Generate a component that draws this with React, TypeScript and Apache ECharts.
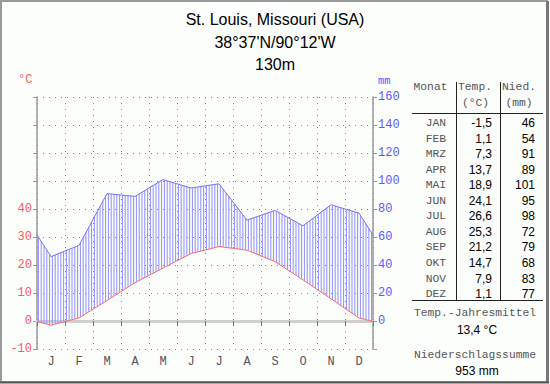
import React, { useEffect, useRef } from "react";
import * as echarts from "echarts";

const titleLines = ["St. Louis, Missouri (USA)", "38°37'N/90°12'W", "130m"];
const monthLetters = ["J", "F", "M", "A", "M", "J", "J", "A", "S", "O", "N", "D"];
const monthNames = ["JAN", "FEB", "MRZ", "APR", "MAI", "JUN", "JUL", "AUG", "SEP", "OKT", "NOV", "DEZ"];
const temps = [-1.5, 1.1, 7.3, 13.7, 18.9, 24.1, 26.6, 25.3, 21.2, 14.7, 7.9, 1.1];
const precip = [46, 54, 91, 89, 101, 95, 98, 72, 79, 68, 83, 77];
const tempLabels = ["-1,5", "1,1", "7,3", "13,7", "18,9", "24,1", "26,6", "25,3", "21,2", "14,7", "7,9", "1,1"];
const meanTempText = "13,4 °C";
const sumPrecipText = "953 mm";

const RED = "#ff5a5a";
const BLUE = "#5a5aff";
const MONO = "'Liberation Mono', 'DejaVu Sans Mono', monospace";
const SANS = "'Liberation Sans', Arial, sans-serif";

function withEdges(vals: number[]): number[][] {
  const edge = (vals[0] + vals[vals.length - 1]) / 2;
  const pts: number[][] = [[0, edge]];
  vals.forEach((v, i) => pts.push([i + 0.5, v]));
  pts.push([vals.length, edge]);
  return pts;
}

export default function App() {
  const ref = useRef<HTMLDivElement>(null);
  useEffect(() => {
    if (!ref.current) return;
    const chart = echarts.init(ref.current, null, { renderer: "svg" });
    const tPts = withEdges(temps);
    const pPts = withEdges(precip);
    // segments for hatching, temp converted to mm scale (10 °C = 20 mm)
    const segs: number[][] = [];
    for (let i = 0; i < tPts.length - 1; i++) {
      segs.push([tPts[i][0], tPts[i][1] * 2, pPts[i][1], tPts[i + 1][0], tPts[i + 1][1] * 2, pPts[i + 1][1]]);
    }

    const graphic: any[] = [];
    graphic.push({ type: "rect", shape: { x: 1, y: 1, width: 546, height: 381 }, style: { fill: "#fcfefc", stroke: "#9a9a9a", lineWidth: 2 }, z: -10, silent: true });
    graphic.push({ type: "line", shape: { x1: 547.5, y1: 1, x2: 547.5, y2: 383 }, style: { stroke: "#777", lineWidth: 3 }, silent: true });
    graphic.push({ type: "line", shape: { x1: 0, y1: 382.5, x2: 549, y2: 382.5 }, style: { stroke: "#555", lineWidth: 2 }, silent: true });
    const titleY = [19, 42, 64];
    titleLines.forEach((t, i) => {
      graphic.push({ type: "text", style: { text: t, x: 275, y: titleY[i], font: `16px ${SANS}`, fill: "#000", textAlign: "center", textVerticalAlign: "middle" } });
    });
    graphic.push({ type: "text", style: { text: "°C", x: 18, y: 80, font: `12px ${MONO}`, fill: RED, textAlign: "left", textVerticalAlign: "middle" } });
    graphic.push({ type: "text", style: { text: "mm", x: 378, y: 81, font: `10.5px ${MONO}`, fill: BLUE, textAlign: "left", textVerticalAlign: "middle" } });
    const MONO_FILL = "#555";
    const hdr = (text: string, x: number, y: number) =>
      graphic.push({ type: "text", style: { text, x, y, font: `11.3px ${MONO}`, fill: MONO_FILL, textAlign: "center", textVerticalAlign: "middle" } });
    hdr("Monat", 430.5, 87);
    hdr("Temp.", 475, 87);
    hdr("(°C)", 475.5, 103);
    hdr("Nied.", 519, 87);
    hdr("(mm)", 519, 103);
    graphic.push({ type: "line", shape: { x1: 412, y1: 113.5, x2: 543, y2: 113.5 }, style: { stroke: "#222", lineWidth: 1 } });
    graphic.push({ type: "line", shape: { x1: 456.5, y1: 82, x2: 456.5, y2: 300.5 }, style: { stroke: "#222", lineWidth: 1 } });
    graphic.push({ type: "line", shape: { x1: 500.5, y1: 82, x2: 500.5, y2: 300.5 }, style: { stroke: "#222", lineWidth: 1 } });
    graphic.push({ type: "line", shape: { x1: 412, y1: 300.5, x2: 543, y2: 300.5 }, style: { stroke: "#222", lineWidth: 1 } });
    monthNames.forEach((m, i) => {
      const y = 123 + i * 15.55;
      graphic.push({ type: "text", style: { text: m, x: 446, y, font: `11.3px ${MONO}`, fill: MONO_FILL, textAlign: "right", textVerticalAlign: "middle" } });
      graphic.push({ type: "text", style: { text: tempLabels[i], x: 492, y, font: `12px ${SANS}`, fill: "#000", textAlign: "right", textVerticalAlign: "middle" } });
      graphic.push({ type: "text", style: { text: String(precip[i]), x: 535, y, font: `12px ${SANS}`, fill: "#000", textAlign: "right", textVerticalAlign: "middle" } });
    });
    graphic.push({ type: "text", style: { text: "Temp.-Jahresmittel", x: 475, y: 313, font: `11.3px ${MONO}`, fill: MONO_FILL, textAlign: "center", textVerticalAlign: "middle" } });
    graphic.push({ type: "text", style: { text: meanTempText, x: 477, y: 330, font: `12px ${SANS}`, fill: "#000", textAlign: "center", textVerticalAlign: "middle" } });
    graphic.push({ type: "text", style: { text: "Niederschlagssumme", x: 475, y: 355, font: `11.3px ${MONO}`, fill: MONO_FILL, textAlign: "center", textVerticalAlign: "middle" } });
    graphic.push({ type: "text", style: { text: sumPrecipText, x: 477, y: 371, font: `12px ${SANS}`, fill: "#000", textAlign: "center", textVerticalAlign: "middle" } });

    const option: any = {
      animation: false,
      graphic,
      grid: { left: 37, right: 177, top: 97, bottom: 35, containLabel: false },
      xAxis: [
        {
          type: "category",
          data: monthLetters,
          boundaryGap: true,
          axisLine: { show: true, onZero: true, lineStyle: { color: "#cfcfcf", width: 3 } },
          axisTick: { show: true, length: 5, lineStyle: { color: "#777" } },
          axisLabel: { color: "#555", fontFamily: MONO, fontSize: 12, margin: 7 },
          splitLine: { show: false },
          z: 1,
        },
        {
          type: "value",
          min: 0,
          max: 12,
          interval: 1,
          position: "top",
          axisLine: { show: false },
          axisTick: { show: false },
          axisLabel: { show: false },
          splitLine: { show: true, lineStyle: { color: "#888", type: [1, 5], width: 1 } },
        },
      ],
      yAxis: [
        {
          type: "value",
          min: -10,
          max: 80,
          interval: 10,
          position: "left",
          axisLine: { show: true, onZero: false, lineStyle: { color: "#999", width: 1.5 } },
          axisTick: { show: true, length: 4, lineStyle: { color: "#999" } },
          axisLabel: { color: RED, fontFamily: MONO, fontSize: 12, margin: 5, formatter: (v: number) => (v <= 40 ? String(v) : "") },
          splitLine: { show: true, lineStyle: { color: "#888", type: [1, 5], width: 1 } },
        },
        {
          type: "value",
          min: -20,
          max: 160,
          interval: 20,
          position: "right",
          axisLine: { show: true, onZero: false, lineStyle: { color: "#999", width: 1.5 } },
          axisTick: { show: true, length: 4, lineStyle: { color: "#999" } },
          axisLabel: { color: BLUE, fontFamily: MONO, fontSize: 12, margin: 5, formatter: (v: number) => (v >= 0 ? String(v) : "") },
          splitLine: { show: false },
        },
      ],
      series: [
        {
          type: "custom",
          xAxisIndex: 1,
          yAxisIndex: 1,
          data: segs,
          z: 2,
          silent: true,
          renderItem: (params: any, api: any) => {
            const x0 = api.value(0), t0 = api.value(1), p0 = api.value(2);
            const x1 = api.value(3), t1 = api.value(4), p1 = api.value(5);
            const a0 = api.coord([x0, t0]), b0 = api.coord([x0, p0]);
            const a1 = api.coord([x1, t1]), b1 = api.coord([x1, p1]);
            const children: any[] = [];
            const step = 0.1;
            const kStart = Math.ceil((x0 - 0.05) / step - 1e-9);
            for (let k = kStart; ; k++) {
              const xv = k * step + 0.05;
              if (xv >= x1 - 1e-9) break;
              if (xv < x0) continue;
              const f = (xv - x0) / (x1 - x0);
              const px = a0[0] + f * (a1[0] - a0[0]);
              const ty = a0[1] + f * (a1[1] - a0[1]);
              const py = b0[1] + f * (b1[1] - b0[1]);
              children.push({ type: "line", shape: { x1: px, y1: ty, x2: px, y2: py }, style: { stroke: "#8d8dff", lineWidth: 1 } });
            }
            return { type: "group", children };
          },
        },
        {
          type: "line",
          xAxisIndex: 1,
          yAxisIndex: 0,
          data: tPts,
          symbol: "none",
          z: 4,
          lineStyle: { color: "#ff6a6a", width: 1 },
        },
        {
          type: "line",
          xAxisIndex: 1,
          yAxisIndex: 1,
          data: pPts,
          symbol: "none",
          z: 4,
          lineStyle: { color: "#7373ff", width: 1 },
        },
      ],
    };
    chart.setOption(option);
    return () => chart.dispose();
  }, []);
  return <div ref={ref} style={{ position: "absolute", left: 0, top: 0, width: 550, height: 384 }} />;
}
